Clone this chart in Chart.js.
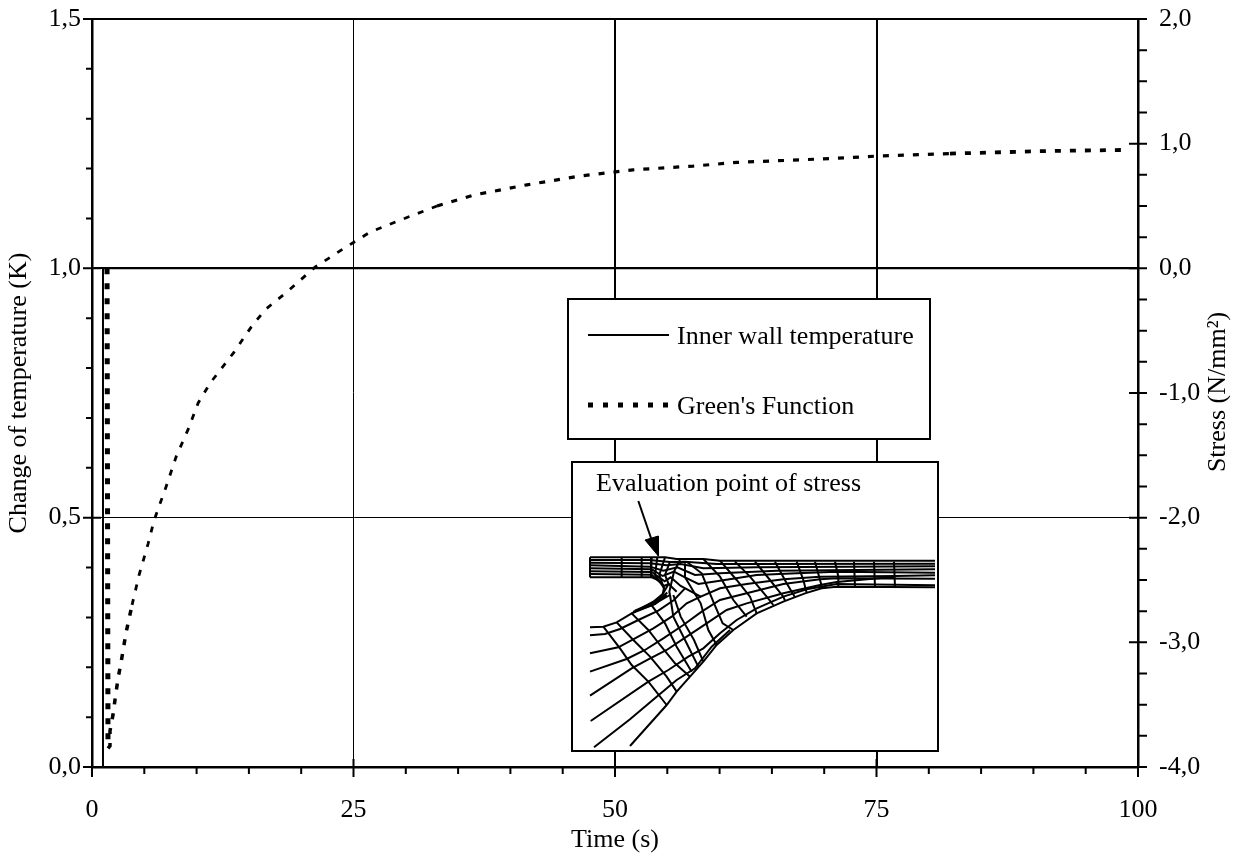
<!DOCTYPE html>
<html>
<head>
<meta charset="utf-8">
<title>Green's Function</title>
<script src="https://cdn.jsdelivr.net/npm/chart.js@4"></script>
<style>
  html, body { margin: 0; padding: 0; background: #fff; }
  canvas { display: block; }
</style>
</head>
<body>
<canvas id="chart" width="1239" height="854"></canvas>
<script>
// Tick labels
const timeLabels = ['0', '25', '50', '75', '100'];
const changeLabels = ['0,0', '0,5', '1,0', '1,5'];
const stressLabels = ['-4,0', '-3,0', '-2,0', '-1,0', '0,0', '1,0', '2,0'];

// Inner wall temperature (left axis)
const wallTime = [0, 1.05, 1.05, 100];
const wallChange = [0, 0, 1, 1];

// Green's Function (right axis)
const greenTime = [1.44, 1.53, 1.72, 1.72, 2.01, 2.2, 2.49, 2.78, 3.26, 3.83, 4.5, 5.36, 5.94, 7.09, 8.05, 9.2, 10.15, 11.3, 13.51, 15.23, 16.57, 18.77, 21.32, 24.09, 26.58, 29.25, 32.98, 36.62, 41.59, 46.65, 51.72, 57.46, 61.66, 70.55, 74.95, 82.02, 90.62, 98.95];
const greenStress = [0, -3.85, -3.83, -3.71, -3.58, -3.46, -3.29, -3.16, -2.92, -2.7, -2.46, -2.21, -2.02, -1.75, -1.51, -1.29, -1.08, -0.92, -0.68, -0.47, -0.33, -0.18, 0.01, 0.16, 0.29, 0.38, 0.5, 0.59, 0.67, 0.74, 0.79, 0.82, 0.85, 0.88, 0.9, 0.92, 0.94, 0.95];

// Inset mesh, lines running along the wall
const meshFlowLines = [
  [[60,292],[285,292],[320,297],[400,297],[450,302],[1095,302]],
  [[60,300],[240,300],[300,306],[345,305],[440,312],[500,312],[1095,311]],
  [[60,308],[240,310],[290,316],[332,312],[400,325],[445,324],[560,322],[1095,319]],
  [[60,316],[240,320],[280,332],[322,322],[375,345],[450,340],[620,332],[1095,328]],
  [[60,325],[245,328],[278,348],[312,335],[345,352],[385,372],[450,362],[560,345],[680,340],[800,335],[1095,338]],
  [[60,334],[245,336],[284,364],[302,352],[332,378],[392,410],[450,385],[530,372],[640,358],[750,350],[975,348],[1095,346]],
  [[60,342],[245,344],[282,378],[296,372],[320,395]],
  [[60,352],[245,352],[268,362],[282,385],[278,402],[250,425],[185,460]],
  [[190,455],[255,432],[290,405]],
  [[195,452],[258,424],[292,398]],
  [[60,502],[100,500],[140,487],[185,460],[245,436],[300,405]],
  [[60,526],[105,522],[150,507],[205,480],[265,452],[312,420],[345,385]],
  [[60,580],[145,562],[195,535],[250,505],[305,470],[350,430],[392,410]],
  [[60,635],[170,597],[225,570],[280,535],[340,495],[395,455],[450,420],[530,400],[640,372],[750,358],[800,355],[1095,356]],
  [[60,707],[185,625],[235,598],[290,570],[350,530],[410,490],[470,450],[530,430],[640,400],[750,375],[800,366],[975,350]],
  [[62,783],[235,665],[295,630],[355,590],[400,565],[450,520],[500,480],[560,445],[640,410],[710,388],[800,372],[1095,376]],
  [[72,862],[180,778],[260,710],[320,660],[375,625],[425,560],[480,510]],
  [[180,858],[290,735],[320,695],[360,650],[400,605],[440,555],[490,510],[560,460],[640,425],[705,400],[755,385],[800,380],[1095,382]]
];

// Inset mesh, lines running across the wall
const meshCrossLines = [
  [[60,292],[60,352]],
  [[155,292],[155,352]],
  [[215,292],[215,352]],
  [[245,292],[243,352]],
  [[262,292],[255,345],[268,362]],
  [[285,292],[268,345],[282,385]],
  [[300,305],[285,345],[296,372],[278,402]],
  [[330,300],[312,335],[298,395],[300,405]],
  [[100,500],[150,565],[185,615],[235,665],[290,735]],
  [[140,487],[190,540],[240,590],[290,650],[320,695]],
  [[185,460],[235,510],[270,555],[315,610],[360,650]],
  [[245,436],[285,490],[320,560],[365,635]],
  [[300,405],[310,470],[345,540],[385,620]],
  [[310,405],[332,470],[372,540],[400,605]],
  [[345,310],[345,352],[392,430],[415,510],[440,555]],
  [[350,305],[395,340],[432,430],[458,490],[490,510]],
  [[400,297],[450,350],[490,420],[530,470]],
  [[450,302],[500,360],[540,410],[560,460]],
  [[495,305],[540,350],[590,410],[610,435]],
  [[555,305],[600,360],[640,410],[645,422]],
  [[615,305],[650,370],[675,412]],
  [[680,305],[700,360],[710,398]],
  [[735,305],[750,360],[757,385]],
  [[795,305],[805,350],[805,380]],
  [[852,305],[855,381]],
  [[912,305],[915,381]],
  [[972,305],[975,382]]
];

// Arrow pointing at the evaluation point
const arrowShaft = [[205,123],[245,240]];
const arrowHead = [[225,240],[265,228],[265,288],[225,240]];

const FONT = '26px "Liberation Serif"';
const BLACK = '#000';

function toPoints(xs, ys) {
  return xs.map(function(x, i) { return { x: x, y: ys[i] }; });
}

function pairsToPoints(pairs) {
  return pairs.map(function(p) { return { x: p[0], y: p[1] }; });
}

function isMultiple(value, step) {
  return Math.abs(value / step - Math.round(value / step)) < 1e-6;
}

function meshLine(pairs, width) {
  return {
    data: pairsToPoints(pairs), xAxisID: 'meshX', yAxisID: 'meshY',
    borderColor: BLACK, borderWidth: width, pointRadius: 0, showLine: true
  };
}

// Tick padding would otherwise push the plot area down
function fixAxis(scale, size) {
  if (scale.isHorizontal()) scale.height = size;
  else scale.width = size;
  scale.paddingTop = 0;
  scale.paddingBottom = 0;
  scale.paddingLeft = 0;
  scale.paddingRight = 0;
}

// Green's curve is heavier on the vertical run and on the flat end
function greenWidth(ctx) {
  const t = greenTime[ctx.p0DataIndex];
  if (ctx.p0DataIndex === 0) return 5;
  if (t < 3.5) return 3.5;
  if (t < 30) return 2.8;
  if (t < 80) return 3.2;
  return 3.8;
}

const datasets = [
  {
    label: 'Inner wall temperature',
    data: toPoints(wallTime, wallChange), xAxisID: 'x', yAxisID: 'y',
    borderColor: BLACK, borderWidth: 2, pointRadius: 0, showLine: true
  },
  {
    label: "Green's Function",
    data: toPoints(greenTime, greenStress), xAxisID: 'x', yAxisID: 'y2',
    borderColor: BLACK, borderWidth: 3, borderDash: [6, 9], pointRadius: 0, showLine: true,
    segment: { borderWidth: greenWidth }
  }
];
meshFlowLines.forEach(function(l) { datasets.push(meshLine(l, 2)); });
meshCrossLines.forEach(function(l) { datasets.push(meshLine(l, 2)); });
datasets.push(meshLine(arrowShaft, 2));
datasets.push(Object.assign(meshLine(arrowHead, 1), { fill: 'shape', backgroundColor: BLACK }));

// Draws the white boxes above the grid and the tick marks by length
const paperPlugin = {
  id: 'paper',
  beforeDatasetsDraw: function(chart) {
    const c = chart.ctx;
    c.save();
    c.fillStyle = '#fff';
    c.strokeStyle = BLACK;
    c.lineWidth = 2;
    [[568, 299, 362, 140], [572, 462, 366, 289]].forEach(function(b) {
      c.fillRect(b[0], b[1], b[2], b[3]);
      c.strokeRect(b[0], b[1], b[2], b[3]);
    });
    c.restore();
  },
  afterDraw: function(chart) {
    const c = chart.ctx;
    const xs = chart.scales.x, y1 = chart.scales.y, y2 = chart.scales.y2;
    const area = chart.chartArea;
    c.save();
    c.strokeStyle = BLACK;
    c.lineWidth = 2;
    c.beginPath();
    xs.ticks.forEach(function(t) {
      const px = xs.getPixelForValue(t.value);
      const major = isMultiple(t.value, 25);
      c.moveTo(px, major ? area.bottom - 8 : area.bottom);
      c.lineTo(px, major ? area.bottom + 10 : area.bottom + 7);
    });
    y1.ticks.forEach(function(t) {
      const py = y1.getPixelForValue(t.value);
      const major = isMultiple(t.value, 0.5);
      c.moveTo(major ? area.left - 9 : area.left - 6, py);
      c.lineTo(major ? area.left + 9 : area.left, py);
    });
    y2.ticks.forEach(function(t) {
      const py = y2.getPixelForValue(t.value);
      const major = isMultiple(t.value, 1);
      c.moveTo(major ? area.right - 9 : area.right, py);
      c.lineTo(area.right + 9, py);
    });
    c.stroke();

    // Legend samples
    c.beginPath();
    c.moveTo(588, 335);
    c.lineTo(669, 335);
    c.stroke();
    c.lineWidth = 5;
    c.setLineDash([5, 10]);
    c.beginPath();
    c.moveTo(588, 405);
    c.lineTo(672, 405);
    c.stroke();
    c.setLineDash([]);

    // Legend and inset text
    c.fillStyle = BLACK;
    c.font = FONT;
    c.textAlign = 'left';
    c.textBaseline = 'middle';
    c.fillText('Inner wall temperature', 677, 337);
    c.fillText("Green's Function", 677, 407);
    c.fillText('Evaluation point of stress', 596, 484);

    // Right axis title reads upwards, the library would turn it the other way
    c.translate(1218, 392);
    c.rotate(-Math.PI / 2);
    c.textAlign = 'center';
    c.fillText('Stress (N/mm²)', 0, 0);
    c.restore();
  }
};

new Chart(document.getElementById('chart'), {
  type: 'scatter',
  data: { datasets: datasets },
  plugins: [paperPlugin],
  options: {
    responsive: false,
    animation: false,
    layout: { autoPadding: false, padding: { top: 19 } },
    plugins: { legend: { display: false }, tooltip: { enabled: false } },
    scales: {
      x: {
        type: 'linear', min: 0, max: 100,
        afterFit: function(s) { fixAxis(s, 87); },
        border: { color: BLACK, width: 2.5 },
        grid: {
          drawTicks: false, color: BLACK,
          lineWidth: function(ctx) {
            const v = ctx.tick ? ctx.tick.value : 0;
            if (v === 25) return 1;
            return v === 50 || v === 75 ? 2 : 0;
          }
        },
        ticks: {
          stepSize: 5, autoSkip: false, maxRotation: 0, padding: 28, color: BLACK,
          font: { family: 'Liberation Serif', size: 26 },
          callback: function(v) { return isMultiple(v, 25) ? timeLabels[Math.round(v / 25)] : ''; }
        },
        title: {
          display: true, text: 'Time (s)', color: BLACK, padding: { top: 0, bottom: -2 },
          font: { family: 'Liberation Serif', size: 26 }
        }
      },
      y: {
        type: 'linear', position: 'left', min: 0, max: 1.5,
        afterFit: function(s) { fixAxis(s, 92); },
        border: { color: BLACK, width: 2.5 },
        grid: {
          drawTicks: false, color: BLACK,
          lineWidth: function(ctx) {
            const v = ctx.tick ? ctx.tick.value : 0;
            if (isMultiple(v, 1.5) && v > 0) return 2;
            if (Math.abs(v - 0.5) < 1e-6) return 1;
            return Math.abs(v - 1) < 1e-6 ? 2 : 0;
          }
        },
        ticks: {
          stepSize: 0.1, autoSkip: false, padding: 11, color: BLACK,
          font: { family: 'Liberation Serif', size: 26 },
          callback: function(v) { return isMultiple(v, 0.5) ? changeLabels[Math.round(v / 0.5)] : ''; }
        },
        title: {
          display: true, text: 'Change of temperature (K)', color: BLACK, padding: { top: 4, bottom: 0 },
          font: { family: 'Liberation Serif', size: 26 }
        }
      },
      y2: {
        type: 'linear', position: 'right', min: -4, max: 2,
        afterFit: function(s) { fixAxis(s, 101); },
        border: { color: BLACK, width: 2.5 },
        grid: { display: false, drawTicks: false },
        ticks: {
          stepSize: 0.25, autoSkip: false, padding: 21, color: BLACK,
          font: { family: 'Liberation Serif', size: 26 },
          callback: function(v) { return isMultiple(v, 1) ? stressLabels[Math.round(v + 4)] : ''; }
        }
      },
      // The inset mesh was read in its own units, these scales place it inside the inset box
      meshX: { type: 'linear', display: false, min: -1434, max: 1704 },
      meshY: { type: 'linear', display: false, reverse: true, min: -1323, max: 921 }
    }
  }
});
</script>
</body>
</html>
